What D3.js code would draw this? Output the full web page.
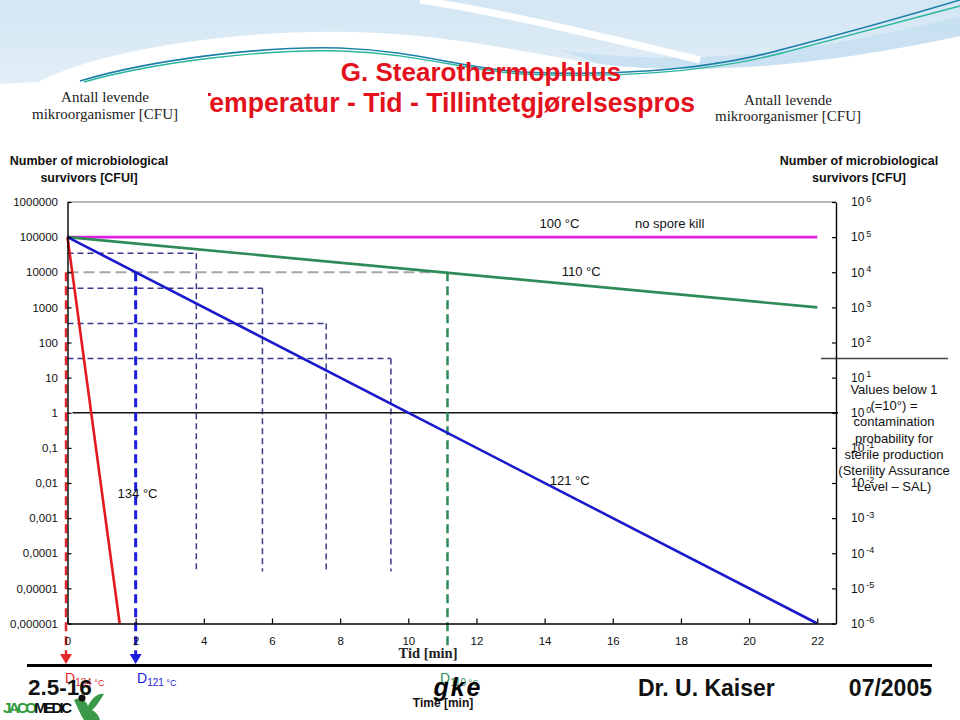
<!DOCTYPE html>
<html><head><meta charset="utf-8">
<script src="https://cdn.jsdelivr.net/npm/d3@7"></script>
<style>
body{margin:0;background:#fff}
svg{display:block}
text{font-family:"Liberation Sans",Arial,sans-serif}
</style>
</head><body>
<svg id="c" width="960" height="720"></svg>
<script>
// ---- data ----
const seriesNames = ["100 °C", "110 °C", "121 °C", "134 °C"];
const times100 = [0, 22],   cfu100 = [1e5, 1e5];
const times110 = [0, 22],   cfu110 = [1e5, 1e3];
const times121 = [0, 22],   cfu121 = [1e5, 1e-6];
const times134 = [0, 1.53], cfu134 = [1e5, 1e-6];
const dTimes = [0, 2, 11.15];           // D-value markers (134, 121, 110 °C)
const dLevel = 1e4;
const gridTimes = [3.78, 5.72, 7.59, 9.49];
const gridLevels = [35000, 3500, 350, 35];
const gridFloor = 3e-5;
const xTickValues = [0, 2, 4, 6, 8, 10, 12, 14, 16, 18, 20, 22];
const yTickValues = [1e-6, 1e-5, 1e-4, 1e-3, 1e-2, 1e-1, 1, 10, 100, 1000, 1e4, 1e5, 1e6];
const yTickLabels = ["0,000001", "0,00001", "0,0001", "0,001", "0,01", "0,1", "1", "10", "100", "1000", "10000", "100000", "1000000"];
const yTickExponents = ["-6", "-5", "-4", "-3", "-2", "-1", "0", "1", "2", "3", "4", "5", "6"];
const salText = ["Values below 1", "(=10°) =", "contamination", "probability for", "sterile production", "(Sterility Assurance", "Level – SAL)"];

// ---- setup ----
const svg = d3.select("#c");
const x = d3.scaleLinear().domain([0, 22.55]).range([67.5, 836]);
const y = d3.scaleLog().domain([1e-6, 1e6]).range([623.5, 202]);

// ---- slide background decoration ----
const defs = svg.append("defs");
const grad = defs.append("linearGradient").attr("id", "bg").attr("x1", 0).attr("y1", 0).attr("x2", 0).attr("y2", 1);
grad.append("stop").attr("offset", "0%").attr("stop-color", "#d3e6f3");
grad.append("stop").attr("offset", "100%").attr("stop-color", "#e3eff8");
svg.append("rect").attr("x", 0).attr("y", 0).attr("width", 960).attr("height", 95).attr("fill", "url(#bg)");
svg.append("path").attr("d", "M0,84 L38,82 C100,50 230,30 350,32 C450,34 520,52 600,64 C700,76 820,66 960,36 V100 H0 Z").attr("fill", "#fff");
svg.append("path").attr("d", "M560,50 C660,64 780,62 960,16 V36 C820,66 700,76 600,64 Z").attr("fill", "#c4def0").attr("opacity", 0.8);
svg.append("path").attr("d", "M420,0 C500,12 600,36 700,60").attr("stroke", "#fff").attr("stroke-width", 7).attr("fill", "none");
svg.append("path").attr("d", "M80,81 C150,60 260,46 340,48 C420,51 460,68 520,72 C600,76 700,72 780,50 C850,32 920,12 960,0")
  .attr("stroke", "#1c7fa8").attr("stroke-width", 1.6).attr("fill", "none");
svg.append("path").attr("d", "M84,82 C155,62 262,49 342,51 C422,54 462,70 522,74 C602,78 702,74 782,53 C852,35 922,16 960,6")
  .attr("stroke", "#28b59c").attr("stroke-width", 1.4).attr("fill", "none");

// ---- titles ----
svg.append("text").attr("x", 481).attr("y", 81).attr("text-anchor", "middle")
  .style("font-size", "26px").style("font-weight", "bold").attr("fill", "#e3121c").text("G. Stearothermophilus");
defs.append("clipPath").attr("id", "tclip").append("rect").attr("x", 208).attr("y", 80).attr("width", 490).attr("height", 40);
svg.append("text").attr("x", 195).attr("y", 112).attr("clip-path", "url(#tclip)")
  .attr("textLength", 500).attr("lengthAdjust", "spacingAndGlyphs")
  .style("font-size", "27px").style("font-weight", "bold").attr("fill", "#e3121c")
  .text("Temperatur - Tid - Tillintetgjørelsespros");

function serif(txt, cx, cy) {
  svg.append("text").attr("x", cx).attr("y", cy).attr("text-anchor", "middle")
    .style("font-family", "'Liberation Serif','Times New Roman',serif").style("font-size", "15px").attr("fill", "#222").text(txt);
}
serif("Antall levende", 105, 102); serif("mikroorganismer [CFU]", 105, 119);
serif("Antall levende", 788, 105); serif("mikroorganismer [CFU]", 788, 121);

function boldSmall(txt, cx, cy) {
  svg.append("text").attr("x", cx).attr("y", cy).attr("text-anchor", "middle")
    .style("font-size", "12.5px").style("font-weight", "bold").attr("fill", "#111").text(txt);
}
boldSmall("Number of microbiological", 89, 165); boldSmall("survivors [CFUI]", 89, 182);
boldSmall("Number of microbiological", 859, 165); boldSmall("survivors [CFU]", 859, 182);

// ---- plot frame ----
svg.append("line").attr("x1", x(0)).attr("x2", x.range()[1]).attr("y1", y(1e6)).attr("y2", y(1e6))
  .attr("stroke", "#777").attr("stroke-width", 1.2);

// navy dashed guide boxes
gridTimes.forEach((t, i) => {
  svg.append("line").attr("x1", x(0)).attr("x2", x(t)).attr("y1", y(gridLevels[i])).attr("y2", y(gridLevels[i]))
    .attr("stroke", "#3b3b8c").attr("stroke-width", 1.5).attr("stroke-dasharray", "6,4");
  svg.append("line").attr("x1", x(t)).attr("x2", x(t)).attr("y1", y(gridLevels[i])).attr("y2", y(gridFloor))
    .attr("stroke", "#3b3b8c").attr("stroke-width", 1.5).attr("stroke-dasharray", "6,4");
});

// grey dashed at 10^4
svg.append("line").attr("x1", x(0)).attr("x2", x(dTimes[2])).attr("y1", y(dLevel)).attr("y2", y(dLevel))
  .attr("stroke", "#a8a8a8").attr("stroke-width", 2).attr("stroke-dasharray", "11,5");

// line at 1 (10^0)
svg.append("line").attr("x1", x(0) + 5).attr("x2", 838).attr("y1", y(1)).attr("y2", y(1))
  .attr("stroke", "#111").attr("stroke-width", 1.3);
// SAL separator
svg.append("line").attr("x1", 821).attr("x2", 948).attr("y1", y(100) + 16).attr("y2", y(100) + 16)
  .attr("stroke", "#444").attr("stroke-width", 1.3);

// D-value verticals with arrows
const dColors = ["#e3292b", "#1d1de0", "#2e8b57"];
const dBottoms = [655, 655, 646];
dTimes.forEach((t, i) => {
  const xx = i === 0 ? x(t) - 1.5 : x(t);
  svg.append("line").attr("x1", xx).attr("x2", xx).attr("y1", y(dLevel)).attr("y2", dBottoms[i])
    .attr("stroke", dColors[i]).attr("stroke-width", i === 1 ? 3 : 2.5).attr("stroke-dasharray", "9,5");
  if (i < 2) {
    svg.append("path").attr("d", `M${xx - 6},654 L${xx + 6},654 L${xx},664 Z`).attr("fill", dColors[i]);
  }
});

// curves
const line = d3.line().x(d => x(d[0])).y(d => y(d[1]));
const curves = [
  [times100, cfu100, "#e21fe0"],
  [times110, cfu110, "#2e8b57"],
  [times134, cfu134, "#e3191f"],
  [times121, cfu121, "#1a1acc"]
];
curves.forEach(([ts, vs, col]) => {
  svg.append("path").datum(ts.map((t, i) => [t, vs[i]])).attr("d", line)
    .attr("fill", "none").attr("stroke", col).attr("stroke-width", 2.6);
});

// axes
const axL = svg.append("g").attr("transform", `translate(${x(0)},0)`)
  .call(d3.axisLeft(y).tickValues(yTickValues).tickFormat((d, i) => yTickLabels[i]).tickSizeInner(-4).tickSizeOuter(0).tickPadding(9.5));
const axR = svg.append("g").attr("transform", `translate(${x.range()[1]},0)`)
  .call(d3.axisRight(y).tickValues(yTickValues).tickFormat(() => "").tickSizeInner(-4).tickSizeOuter(0).tickPadding(15));
const axB = svg.append("g").attr("transform", `translate(0,${y.range()[0]})`)
  .call(d3.axisBottom(x).tickValues(xTickValues).tickFormat(d3.format("d")).tickSizeInner(-5).tickSizeOuter(0).tickPadding(13));
[axL, axB].forEach(g => {
  g.selectAll("text").style("font-family", "'Liberation Sans',Arial,sans-serif").style("font-size", "11.5px").attr("fill", "#111");
});
[axL, axR, axB].forEach(g => {
  g.select(".domain").attr("stroke", "#000").attr("stroke-width", 1.4);
  g.selectAll(".tick line").attr("stroke", "#000").attr("stroke-width", 1.2);
});
axR.selectAll(".tick text").each(function (d, i) {
  const t = d3.select(this);
  t.text(null).style("font-family", "'Liberation Sans',Arial,sans-serif").style("font-size", "12px").attr("fill", "#111");
  t.append("tspan").text("10");
  t.append("tspan").attr("dy", "-0.5em").attr("dx", "2").style("font-size", "9px").text(yTickExponents[i]);
});

// curve labels
function lab(txt, xx, yy) {
  svg.append("text").attr("x", xx).attr("y", yy).style("font-size", "13px").attr("fill", "#111").text(txt);
}
lab(seriesNames[0], x(13.85), y(1e5) - 9);
lab("no spore kill", x(16.65), y(1e5) - 9);
lab(seriesNames[1], x(14.5), y(1e4) + 4);
lab(seriesNames[2], x(14.15), y(1e-2) + 2);
lab(seriesNames[3], x(1.47), y(1e-2) + 15);

// SAL annotation
salText.forEach((s, i) => {
  svg.append("text").attr("x", 894).attr("y", 394 + i * 16.2).attr("text-anchor", "middle")
    .style("font-size", "13px").attr("fill", "#111").text(s);
});

// x-axis title
svg.append("text").attr("x", 428).attr("y", 658).attr("text-anchor", "middle")
  .style("font-family", "'Liberation Serif','Times New Roman',serif").style("font-size", "14.5px").style("font-weight", "bold").attr("fill", "#222").text("Tid [min]");

// bottom rule
svg.append("line").attr("x1", 27).attr("x2", 932).attr("y1", 665.5).attr("y2", 665.5).attr("stroke", "#000").attr("stroke-width", 3);

// D labels
const dLabelX = [65, 137, 440];
const dSubs = ["134", "121", "110"];
dSubs.forEach((s, i) => {
  const t = svg.append("text").attr("x", dLabelX[i]).attr("y", 683).attr("fill", dColors[i]).style("font-size", "14px");
  t.append("tspan").text("D");
  t.append("tspan").attr("dy", "3").style("font-size", "10px").text(s);
  t.append("tspan").style("font-size", "9px").text(" °C");
});

// footer
svg.append("text").attr("x", 28).attr("y", 695).style("font-size", "22.5px").style("font-weight", "bold").attr("fill", "#111").text("2.5-16");
svg.append("text").attr("x", 457).attr("y", 696).attr("text-anchor", "middle").style("font-size", "25px").style("font-weight", "900").style("font-style", "italic").attr("fill", "#000").attr("textLength", 47).text("gke");
svg.append("text").attr("x", 443).attr("y", 707).attr("text-anchor", "middle").style("font-size", "12px").style("font-weight", "bold").attr("fill", "#111").text("Time [min]");
svg.append("text").attr("x", 638).attr("y", 696).style("font-size", "23px").style("font-weight", "bold").attr("fill", "#111").text("Dr. U. Kaiser");
svg.append("text").attr("x", 932).attr("y", 696).attr("text-anchor", "end").style("font-size", "23px").style("font-weight", "bold").attr("fill", "#111").text("07/2005");

// JACOMEDIC logo
const jt = svg.append("text").attr("x", 3).attr("y", 713).style("font-size", "15px").style("font-weight", "bold").attr("textLength", 69).style("font-family", "'Liberation Sans Narrow','Liberation Sans',Arial,sans-serif");
jt.append("tspan").attr("fill", "#2d9a3d").text("JACO");
jt.append("tspan").attr("fill", "#111").text("MEDIC");
svg.append("path").attr("d", "M74,700 C80,696 86,700 88,706 C92,698 98,693 104,694 C100,700 97,706 92,710 C96,712 99,716 100,720 L84,720 C80,714 77,706 74,700 Z").attr("fill", "#3a9a4a");
svg.append("circle").attr("cx", 82).attr("cy", 698).attr("r", 3.5).attr("fill", "#111");
</script>
</body></html>
